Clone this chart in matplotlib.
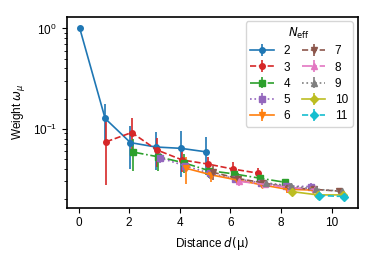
import matplotlib
matplotlib.use("Agg")
import matplotlib.pyplot as plt
import numpy as np

plt.rcParams['font.family'] = ['Liberation Sans', 'DejaVu Sans']
plt.rcParams['mathtext.fontset'] = 'dejavusans'
plt.rcParams['font.size'] = 8.5

n_eff = [2, 3, 4, 5, 6, 7, 8, 9, 10, 11]

# distances start at N-2 for each series
dist = {
    2: [0, 1, 2, 3, 4, 5],
    3: [1, 2, 3, 4, 5, 6, 7],
    4: [2, 3, 4, 5, 6, 7, 8],
    5: [3, 4, 5, 6, 7, 8, 9],
    6: [4, 5, 6, 7, 8, 9],
    7: [5, 6, 7, 8, 9, 10],
    8: [6, 7, 8, 9],
    9: [7, 8, 9, 10],
    10: [8, 9, 10],
    11: [9, 10],
}
weight = {
    2: [1.0, 0.127, 0.073, 0.066, 0.064, 0.059],
    3: [0.0745, 0.092, 0.0616, 0.049, 0.0447, 0.0398, 0.0362],
    4: [0.0588, 0.0527, 0.046, 0.0384, 0.0356, 0.0323, 0.0294],
    5: [0.0516, 0.043, 0.036, 0.032, 0.029, 0.027, 0.0266],
    6: [0.0405, 0.0348, 0.031, 0.0277, 0.025, 0.0246],
    7: [0.037, 0.032, 0.029, 0.026, 0.025, 0.024],
    8: [0.030, 0.028, 0.026, 0.025],
    9: [0.029, 0.027, 0.025, 0.024],
    10: [0.0237, 0.022, 0.022],
    11: [0.0217, 0.0212],
}
err = {
    2: [0.0, 0.049, 0.033, 0.027, 0.031, 0.024],
    3: [0.047, 0.037, 0.02, 0.012, 0.008, 0.007, 0.005],
    4: [0.021, 0.015, 0.01, 0.006, 0.004, 0.003, 0.002],
    5: [0.006, 0.006, 0.004, 0.003, 0.002, 0.002, 0.002],
    6: [0.012, 0.005, 0.003, 0.002, 0.002, 0.001],
    7: [0.006, 0.004, 0.002, 0.002, 0.001, 0.001],
    8: [0.003, 0.002, 0.002, 0.001],
    9: [0.002, 0.002, 0.001, 0.001],
    10: [0.001, 0.001, 0.001],
    11: [0.001, 0.001],
}

colors = ['C0', 'C3', 'C2', 'C4', 'C1', 'C5', 'C6', 'C7', 'C8', 'C9']
markers = ['o', 'o', 's', 's', 'v', 'v', '^', '^', 'D', 'D']
styles = ['-', '--', '-.', ':', '-', '--', '-.', ':', '-', '--']

fig = plt.figure(figsize=(3.74, 2.59), dpi=100)
ax = fig.add_axes([0.178, 0.198, 0.778, 0.7375])

for i, n in enumerate(n_eff):
    x = np.array(dist[n]) + 0.05 * (n - 1)
    ax.errorbar(x, weight[n], yerr=err[n], color=colors[i], marker=markers[i],
                ls=styles[i], lw=1.2, ms=4, label=str(n))

ax.set_yscale('log')
ax.set_ylim(0.0164, 1.31)
ax.set_xticks([0, 2, 4, 6, 8, 10])
ax.set_xlabel(r'Distance $d(\mathrm{\mu})$')
ax.set_ylabel(r'Weight $\omega_{\mu}$')
ax.legend(title=r'$N_{\mathrm{eff}}$', ncol=2, loc='upper right',
          columnspacing=1.0, handlelength=2.0, borderaxespad=0.4,
          labelspacing=0.35)
for s in ax.spines.values():
    s.set_linewidth(1.2)

fig.savefig('out.png', dpi=100)
